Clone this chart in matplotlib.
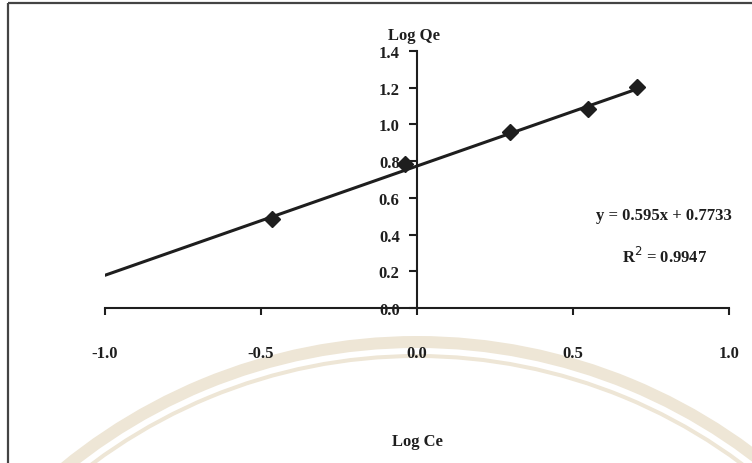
import matplotlib
matplotlib.use("Agg")
import matplotlib.pyplot as plt
from matplotlib.patches import Wedge
import numpy as np

# Freundlich isotherm data (log-log)
log_ce = [-0.465, -0.04, 0.298, 0.548, 0.705]
log_qe = [0.485, 0.785, 0.958, 1.084, 1.204]

# Linear fit reported on the chart
slope = 0.595
intercept = 0.7733
r_squared = 0.9947
fit_x_range = [-1.0, 0.705]

x_ticks = [-1.0, -0.5, 0.0, 0.5, 1.0]
y_ticks = [0.0, 0.2, 0.4, 0.6, 0.8, 1.0, 1.2, 1.4]

W, H = 752, 464
ink = "#1e1e1e"
serif = ["Liberation Serif", "DejaVu Serif"]

fig = plt.figure(figsize=(W / 100, H / 100), dpi=100)
fig.patch.set_facecolor("white")

# Background layer in pixel coordinates: page frame and faint seal watermark
bg = fig.add_axes([0, 0, 1, 1], zorder=0)
bg.set_xlim(0, W)
bg.set_ylim(H, 0)
bg.axis("off")
seal_color = "#EEE6D6"
cx, cy, R = 417, 900, 563
bg.add_patch(Wedge((cx, cy), R, 0, 360, width=12, facecolor=seal_color, edgecolor="none"))
bg.add_patch(Wedge((cx, cy), R - 18, 0, 360, width=4, facecolor=seal_color, edgecolor="none"))
bg.plot([8, W], [4, 4], color="#444444", lw=1.6, solid_capstyle="butt")
bg.plot([8, 8], [4, H], color="#444444", lw=1.6, solid_capstyle="butt")

# Main plot axes, with spines crossing at the origin
left, right = 105 / W, 729 / W
bottom, top = 1 - 309 / H, 1 - 52 / H
ax = fig.add_axes([left, bottom, right - left, top - bottom], zorder=1)
ax.set_facecolor("none")
ax.set_xlim(-1.0, 1.0)
ax.set_ylim(0.0, 1.4)

for side in ("top", "right"):
    ax.spines[side].set_visible(False)
ax.spines["left"].set_position(("data", 0.0))
ax.spines["bottom"].set_position(("data", 0.0))
for side in ("left", "bottom"):
    ax.spines[side].set_color(ink)
    ax.spines[side].set_linewidth(1.5)
ax.spines["left"].set_bounds(0.0, 1.4)

ax.set_xticks(x_ticks)
ax.set_xticklabels([f"{v:.1f}" for v in x_ticks])
ax.set_yticks(y_ticks)
ax.set_yticklabels([f"{v:.1f}" for v in y_ticks])
ax.tick_params(axis="x", direction="out", length=5, width=1.5, color=ink, pad=22,
               labelsize=12, labelcolor=ink)
ax.tick_params(axis="y", direction="out", length=5.5, width=1.5, color=ink, pad=7,
               labelsize=12, labelcolor=ink)
for lab in ax.get_xticklabels() + ax.get_yticklabels():
    lab.set_fontfamily(serif)
    lab.set_fontweight("bold")

# Trend line and data points
fx = np.array(fit_x_range)
ax.plot(fx, slope * fx + intercept, color=ink, lw=2.2, solid_capstyle="round", zorder=2)
ax.plot(log_ce, log_qe, linestyle="none", marker="D", ms=8, color=ink, zorder=3)

def ptext(x, y, s, **kw):
    fig.text(x / W, 1 - y / H, s, ha="center", va="center", family=serif,
             fontweight="bold", fontsize=12, color=ink, **kw)

ptext(414, 36, "Log Qe")
ptext(417, 442, "Log Ce")
ptext(664, 216, f"y = {slope}x + {intercept}")
ptext(665, 257, f"R$^2$ = {r_squared}")

fig.savefig("out.png", dpi=100, facecolor="white")
